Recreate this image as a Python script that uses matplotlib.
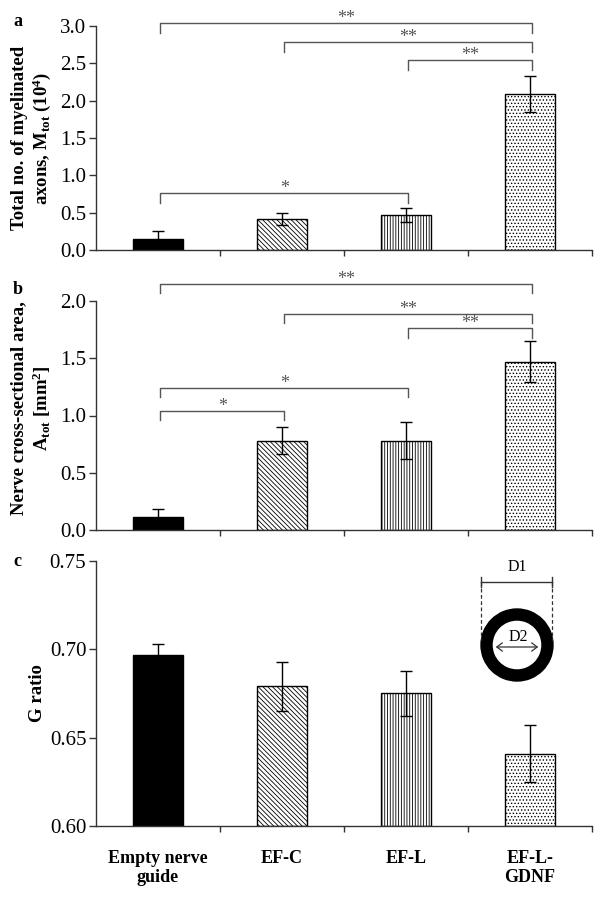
import matplotlib
matplotlib.use("Agg")
import matplotlib.pyplot as plt
from matplotlib.patches import Annulus, FancyArrowPatch

plt.rcParams['font.family'] = ['Liberation Serif', 'DejaVu Serif']
plt.rcParams['mathtext.fontset'] = 'custom'
plt.rcParams['mathtext.rm'] = 'Liberation Serif'
plt.rcParams['mathtext.bf'] = 'Liberation Serif:bold'
plt.rcParams['mathtext.it'] = 'Liberation Serif:italic'

categories = ["Empty nerve\nguide", "EF-C", "EF-L", "EF-L-\nGDNF"]

# panel a: total myelinated axons (10^4)
axons_mean = [0.15, 0.41, 0.47, 2.09]
axons_err = [0.10, 0.08, 0.09, 0.24]
# panel b: cross-sectional area (mm^2)
area_mean = [0.11, 0.78, 0.78, 1.47]
area_err = [0.07, 0.12, 0.16, 0.18]
# panel c: G ratio
gratio_mean = [0.697, 0.679, 0.675, 0.641]
gratio_err = [0.006, 0.014, 0.013, 0.016]

# significance brackets: (from, to, height, label)
brackets_a = [(0, 3, 3.04, "**"), (1, 3, 2.78, "**"), (2, 3, 2.54, "**"), (0, 2, 0.76, "*")]
brackets_b = [(0, 3, 2.15, "**"), (1, 3, 1.89, "**"), (2, 3, 1.76, "**"), (0, 2, 1.24, "*"), (0, 1, 1.04, "*")]

fills = ["black", "white", "white", "white"]
hatches = [None, "\\\\\\\\\\\\\\", "||||||", "....."]

W, H = 600, 897
fig = plt.figure(figsize=(W / 100, H / 100), dpi=100)
plt.rcParams['hatch.linewidth'] = 0.6
plt.rcParams['hatch.color'] = '#444444'

def make_ax(top_px, bottom_px):
    return fig.add_axes([96 / W, 1 - bottom_px / H, (592 - 96) / W, (bottom_px - top_px) / H])

axa = make_ax(26, 250)
axb = make_ax(301, 530)
axc = make_ax(561, 826)

x = list(range(len(categories)))

def style_ax(ax, yticks, fmt):
    ax.set_xlim(-0.5, 3.5)
    ax.set_yticks(yticks)
    ax.set_yticklabels([fmt.format(v) for v in yticks], fontsize=15)
    ax.set_xticks([0.5, 1.5, 2.5, 3.5])
    ax.set_xticklabels([])
    for s in ["top", "right"]:
        ax.spines[s].set_visible(False)
    for s in ["left", "bottom"]:
        ax.spines[s].set_color("#333333")
        ax.spines[s].set_linewidth(1.0)
    ax.tick_params(axis="both", direction="out", length=5, width=1.0, color="#333333", pad=2)
    ax.tick_params(axis="x", length=4)

def draw_bars(ax, means, errs, base):
    for i in x:
        ax.bar(i, means[i] - base, bottom=base, width=0.41, color=fills[i], edgecolor="black",
               hatch=hatches[i], linewidth=1.0, zorder=2)
    ax.errorbar(x, means, yerr=errs, fmt="none", ecolor="black", elinewidth=1.0,
                capsize=4, capthick=1.0, zorder=3)

def draw_brackets(ax, brackets, drop, gap):
    for i, j, y, lab in brackets:
        ax.plot([i + 0.02, i + 0.02, j + 0.02, j + 0.02], [y - drop, y, y, y - drop],
                color="#555555", lw=1.0, clip_on=False, zorder=4)
        ax.text((i + j) / 2 + 0.02, y + gap, lab, ha="center", va="bottom",
                fontsize=13, color="#555555", clip_on=False)

axa.set_ylim(0, 3.0)
draw_bars(axa, axons_mean, axons_err, 0)
style_ax(axa, [0.0, 0.5, 1.0, 1.5, 2.0, 2.5, 3.0], "{:.1f}")
draw_brackets(axa, brackets_a, 0.13, -0.05)

axb.set_ylim(0, 2.0)
draw_bars(axb, area_mean, area_err, 0)
style_ax(axb, [0.0, 0.5, 1.0, 1.5, 2.0], "{:.1f}")
draw_brackets(axb, brackets_b, 0.08, -0.035)

axc.set_ylim(0.60, 0.75)
draw_bars(axc, gratio_mean, gratio_err, 0.60)
style_ax(axc, [0.60, 0.65, 0.70, 0.75], "{:.2f}")
for i, lab in enumerate(categories):
    axc.text(i, 0.60 - 0.0135, lab, ha="center", va="top", fontsize=13, fontweight="bold",
             linespacing=1.15)

# y labels
fig.text(32 / W, 1 - 138 / H, "Total no. of myelinated\naxons, $\\mathbf{M_{tot}}$ $\\mathbf{(10^4)}$",
         rotation=90, ha="center", va="center", fontsize=13.5, fontweight="bold", linespacing=1.2)
fig.text(32 / W, 1 - 408 / H, "Nerve cross-sectional area,\n$\\mathbf{A_{tot}}$ $\\mathbf{[mm^2]}$",
         rotation=90, ha="center", va="center", fontsize=13.5, fontweight="bold", linespacing=1.2)
fig.text(37 / W, 1 - 693 / H, "G ratio", rotation=90, ha="center", va="center",
         fontsize=13.5, fontweight="bold")

# panel letters
for lab, ypx in [("a", 22), ("b", 290), ("c", 562)]:
    fig.text(13 / W, 1 - ypx / H, lab, ha="left", va="center", fontsize=13, fontweight="bold")

# ring diagram (inset in pixel coordinates)
axr = fig.add_axes([465 / W, 1 - 695 / H, 105 / W, 140 / H])
axr.set_xlim(465, 570)
axr.set_ylim(695, 555)
axr.axis("off")
axr.add_patch(Annulus((517, 645), 36, 11, color="black"))
axr.plot([481, 552], [582, 582], color="#333333", lw=1.0)
axr.plot([481, 481], [577, 587], color="#333333", lw=1.0)
axr.plot([552, 552], [577, 587], color="#333333", lw=1.0)
axr.plot([481, 481], [582, 640], color="#333333", lw=0.9, ls=(0, (3, 2)))
axr.plot([552, 552], [582, 640], color="#333333", lw=0.9, ls=(0, (3, 2)))
axr.text(517, 575, "D1", ha="center", va="bottom", fontsize=11.5)
axr.add_patch(FancyArrowPatch((493, 647), (541, 647), arrowstyle="<->,head_length=4,head_width=3",
                              color="#333333", lw=0.9, mutation_scale=1))
axr.text(518, 645, "D2", ha="center", va="bottom", fontsize=11.5)

fig.savefig("out.png", dpi=100)
